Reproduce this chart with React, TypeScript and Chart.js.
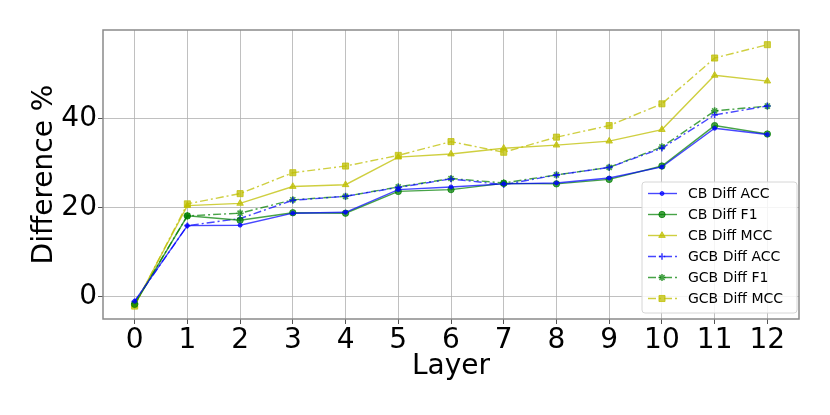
import React, { useEffect, useRef } from "react";
import { Chart, registerables } from "chart.js";
import { drawPoint } from "chart.js/helpers";

Chart.register(...registerables);

const LAYERS = [0, 1, 2, 3, 4, 5, 6, 7, 8, 9, 10, 11, 12];
const CB_ACC = [-1.1, 15.9, 16.0, 18.7, 18.9, 24.0, 24.6, 25.3, 25.5, 26.6, 29.1, 37.8, 36.4];
const CB_F1 = [-1.8, 18.1, 17.1, 18.8, 18.7, 23.6, 24.0, 25.4, 25.3, 26.3, 29.3, 38.4, 36.5];
const CB_MCC = [-2.0, 20.4, 20.9, 24.7, 25.1, 31.3, 32.0, 33.3, 34.0, 34.9, 37.5, 49.7, 48.4];
const GCB_ACC = [-1.2, 15.9, 17.5, 21.6, 22.5, 24.5, 26.4, 25.1, 27.3, 29.0, 33.3, 40.8, 42.8];
const GCB_F1 = [-1.6, 18.1, 18.7, 21.7, 22.5, 24.6, 26.5, 25.5, 27.3, 29.0, 33.6, 41.7, 42.8];
const GCB_MCC = [-2.2, 20.8, 23.1, 27.8, 29.3, 31.7, 34.8, 32.4, 35.8, 38.4, 43.3, 53.6, 56.6];

const X_TICKS = [0, 1, 2, 3, 4, 5, 6, 7, 8, 9, 10, 11, 12];
const Y_TICKS = [0, 20, 40];

const BLUE = "rgba(0,0,255,0.72)";
const GREEN = "rgba(0,128,0,0.72)";
const YELLOW = "rgba(191,191,0,0.75)";
const DASHDOT = [8, 3, 2, 3];
const FONT = "'DejaVu Sans', sans-serif";

type SeriesDef = {
  label: string;
  values: number[];
  color: string;
  dash: number[];
  style: string;
  radius: number;
};

const SERIES: SeriesDef[] = [
  { label: "CB Diff ACC", values: CB_ACC, color: BLUE, dash: [], style: "circle", radius: 2 },
  { label: "CB Diff F1", values: CB_F1, color: GREEN, dash: [], style: "circle", radius: 3.2 },
  { label: "CB Diff MCC", values: CB_MCC, color: YELLOW, dash: [], style: "triangle", radius: 3.8 },
  { label: "GCB Diff ACC", values: GCB_ACC, color: BLUE, dash: DASHDOT, style: "cross", radius: 3.2 },
  { label: "GCB Diff F1", values: GCB_F1, color: GREEN, dash: DASHDOT, style: "star", radius: 3.6 },
  { label: "GCB Diff MCC", values: GCB_MCC, color: YELLOW, dash: DASHDOT, style: "rect", radius: 4.3 },
];

const framePlugin = {
  id: "frameAndLegend",
  afterDraw(chart: any) {
    const ctx = chart.ctx as CanvasRenderingContext2D;
    const a = chart.chartArea;
    ctx.save();
    ctx.strokeStyle = "#8a8a8a";
    ctx.lineWidth = 1.5;
    ctx.setLineDash([]);
    ctx.strokeRect(a.left, a.top, a.right - a.left, a.bottom - a.top);

    // legend box inside chart area (lower right)
    const bx = 642, by = 182, bw = 155, bh = 131, r = 3;
    ctx.beginPath();
    ctx.moveTo(bx + r, by);
    ctx.lineTo(bx + bw - r, by);
    ctx.quadraticCurveTo(bx + bw, by, bx + bw, by + r);
    ctx.lineTo(bx + bw, by + bh - r);
    ctx.quadraticCurveTo(bx + bw, by + bh, bx + bw - r, by + bh);
    ctx.lineTo(bx + r, by + bh);
    ctx.quadraticCurveTo(bx, by + bh, bx, by + bh - r);
    ctx.lineTo(bx, by + r);
    ctx.quadraticCurveTo(bx, by, bx + r, by);
    ctx.closePath();
    ctx.fillStyle = "rgba(255,255,255,0.85)";
    ctx.fill();
    ctx.strokeStyle = "#d6d6d6";
    ctx.lineWidth = 1;
    ctx.stroke();

    chart.data.datasets.forEach((ds: any, i: number) => {
      const y = 193.5 + i * 21;
      ctx.strokeStyle = ds.borderColor;
      ctx.lineWidth = 1.4;
      ctx.setLineDash(ds.borderDash || []);
      ctx.beginPath();
      ctx.moveTo(648, y);
      ctx.lineTo(677, y);
      ctx.stroke();
      ctx.setLineDash([]);
      ctx.fillStyle = ds.pointBackgroundColor;
      ctx.strokeStyle = ds.pointBorderColor;
      ctx.lineWidth = ds.pointBorderWidth;
      drawPoint(ctx, { pointStyle: ds.pointStyle, radius: ds.pointRadius, rotation: 0, borderWidth: ds.pointBorderWidth } as any, 662, y);
      ctx.fillStyle = "#000";
      ctx.font = `14px ${FONT}`;
      ctx.textBaseline = "middle";
      ctx.textAlign = "left";
      ctx.fillText(ds.label, 688, y + 1);
    });
    ctx.restore();
  },
};

export default function App() {
  const ref = useRef<HTMLCanvasElement | null>(null);

  useEffect(() => {
    document.body.style.margin = "0";
    document.body.style.overflow = "hidden";
    if (!ref.current) return;
    const chart = new Chart(ref.current, {
      type: "line",
      data: {
        datasets: SERIES.map((s) => ({
          label: s.label,
          data: LAYERS.map((x, i) => ({ x, y: s.values[i] })),
          borderColor: s.color,
          backgroundColor: s.color,
          borderWidth: 1.4,
          borderDash: s.dash,
          pointStyle: s.style as any,
          pointRadius: s.radius,
          pointBackgroundColor: s.color,
          pointBorderColor: s.color,
          pointBorderWidth: s.style === "cross" || s.style === "star" ? 1.6 : 1,
          fill: false,
          tension: 0,
        })),
      },
      options: {
        animation: false,
        responsive: false,
        events: [],
        layout: { padding: { top: 30, right: 31, left: 0, bottom: 31 } },
        plugins: { legend: { display: false }, tooltip: { enabled: false } },
        scales: {
          x: {
            type: "linear",
            min: -0.6,
            max: 12.6,
            afterBuildTicks: (s: any) => {
              s.ticks = X_TICKS.map((v) => ({ value: v }));
            },
            afterFit: (s: any) => {
              s.height = 65;
            },
            ticks: {
              font: { family: FONT, size: 28 },
              color: "#000",
              padding: 0,
              maxRotation: 0,
              autoSkip: false,
              callback: (v: any) => String(v),
            },
            grid: { color: "rgba(176,176,176,0.8)", lineWidth: 1, tickLength: 5, tickColor: "#555" },
            border: { display: false },
            title: {
              display: true,
              text: "Layer",
              font: { family: FONT, size: 28 },
              color: "#000",
              padding: { top: 0, bottom: 0 },
            },
          },
          y: {
            type: "linear",
            min: -5.1,
            max: 59.9,
            afterBuildTicks: (s: any) => {
              s.ticks = Y_TICKS.map((v) => ({ value: v }));
            },
            afterFit: (s: any) => {
              s.width = 103;
            },
            ticks: {
              font: { family: FONT, size: 28 },
              color: "#000",
              padding: 1,
              callback: (v: any) => String(v),
            },
            grid: { color: "rgba(176,176,176,0.8)", lineWidth: 1, tickLength: 5, tickColor: "#555" },
            border: { display: false },
            title: {
              display: true,
              text: "Difference %",
              font: { family: FONT, size: 28 },
              color: "#000",
              padding: { top: 28, bottom: 0 },
            },
          },
        },
      },
      plugins: [framePlugin],
    });
    return () => chart.destroy();
  }, []);

  return (
    <div style={{ width: 830, height: 415 }}>
      <canvas ref={ref} width={830} height={415} style={{ width: 830, height: 415, display: "block" }} />
    </div>
  );
}
